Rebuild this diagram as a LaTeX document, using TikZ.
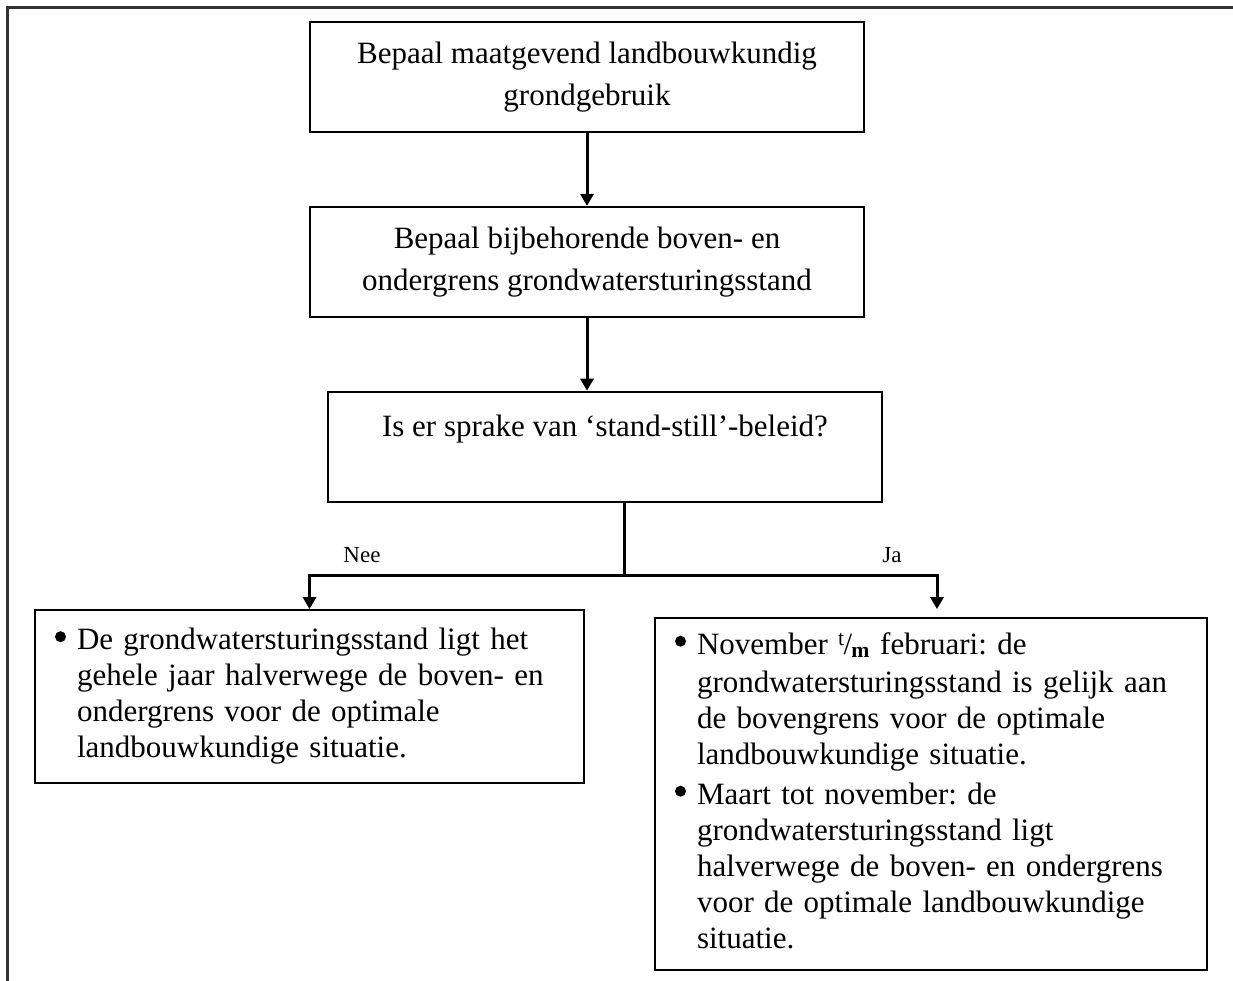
\documentclass[tikz,border=0pt]{standalone}
\usepackage{fontspec}
\setmainfont{Liberation Serif}
\frenchspacing
\usetikzlibrary{positioning,calc,arrows.meta}

\tikzset{
	stap/.style={draw, line width=1.8pt, minimum width=554pt, minimum height=110pt,
		align=center, inner sep=0pt, font=\fontsize{31}{42}\selectfont},
	keuze/.style={draw, line width=1.8pt, inner xsep=20pt, inner ysep=0pt,
		align=left, font=\fontsize{31}{36}\selectfont},
	pijl/.style={line width=3pt, -{Triangle[width=13pt,length=12pt]}},
	lijn/.style={line width=3pt},
	lbl/.style={font=\fontsize{23}{24}\selectfont},
	rand/.style={line width=3pt, draw=black!80},
}
\newcommand{\bol}{\raisebox{7.5pt}{\tikz\fill circle (5.5pt);}}

\begin{document}
\begin{tikzpicture}[x=1pt,y=-1pt,node distance=73pt]
	\useasboundingbox (0,0) rectangle (1233,981);
	\draw[rand] (7,981) -- (7,8) -- (1233,8);
	\node[stap] (maatgevend) at (587,77) {Bepaal maatgevend landbouwkundig\\grondgebruik};
	\node[stap] (grenzen) [below=of maatgevend] {Bepaal bijbehorende boven- en\\ondergrens grondwatersturingsstand};
	\node[stap] (vraag) [below=of grenzen, xshift=18pt] {Is er sprake van ‘stand-still’-beleid?\\\mbox{}};
	\node[keuze, text width=509pt, minimum height=173pt] (nee) at (309.5,696.5) {%
		\begin{tabular}{@{}p{22pt}@{}l@{}}
		\bol & De grondwatersturingsstand ligt het\\
		& gehele jaar halverwege de boven- en\\
		& ondergrens voor de optimale\\
		& landbouwkundige situatie.
		\end{tabular}};
	\node[keuze, text width=512pt, minimum height=352pt] (ja) at (931,794) {%
		\begin{tabular}{@{}p{22pt}@{}l@{}}
		\bol & November \textsuperscript{t}\kern-1pt/\kern-1pt\textsubscript{\textbf{m}} februari: de\\[2pt]
		& grondwatersturingsstand is gelijk aan\\
		& de bovengrens voor de optimale\\
		& landbouwkundige situatie.\\[4pt]
		\bol & Maart tot november: de\\
		& grondwatersturingsstand ligt\\
		& halverwege de boven- en ondergrens\\
		& voor de optimale landbouwkundige\\
		& situatie.
		\end{tabular}};
	\coordinate (split) at ($(vraag.south)+(19,73)$);
	\node[lbl] (neelabel) at (362,555) {Nee};
	\node[lbl] (jalabel) at (892,555) {Ja};
	\draw[pijl] (maatgevend) -- (grenzen);
	\draw[pijl] (grenzen.south) -- (grenzen.south |- vraag.north);
	\draw[lijn] ([xshift=19pt]vraag.south) -- (split);
	\draw[pijl] (split) -| (nee.north);
	\draw[pijl] (split) -| ([xshift=6pt]ja.north |- nee.north);
	%\draw[lijn] (vraag) -- (nee);
\end{tikzpicture}
\end{document}
